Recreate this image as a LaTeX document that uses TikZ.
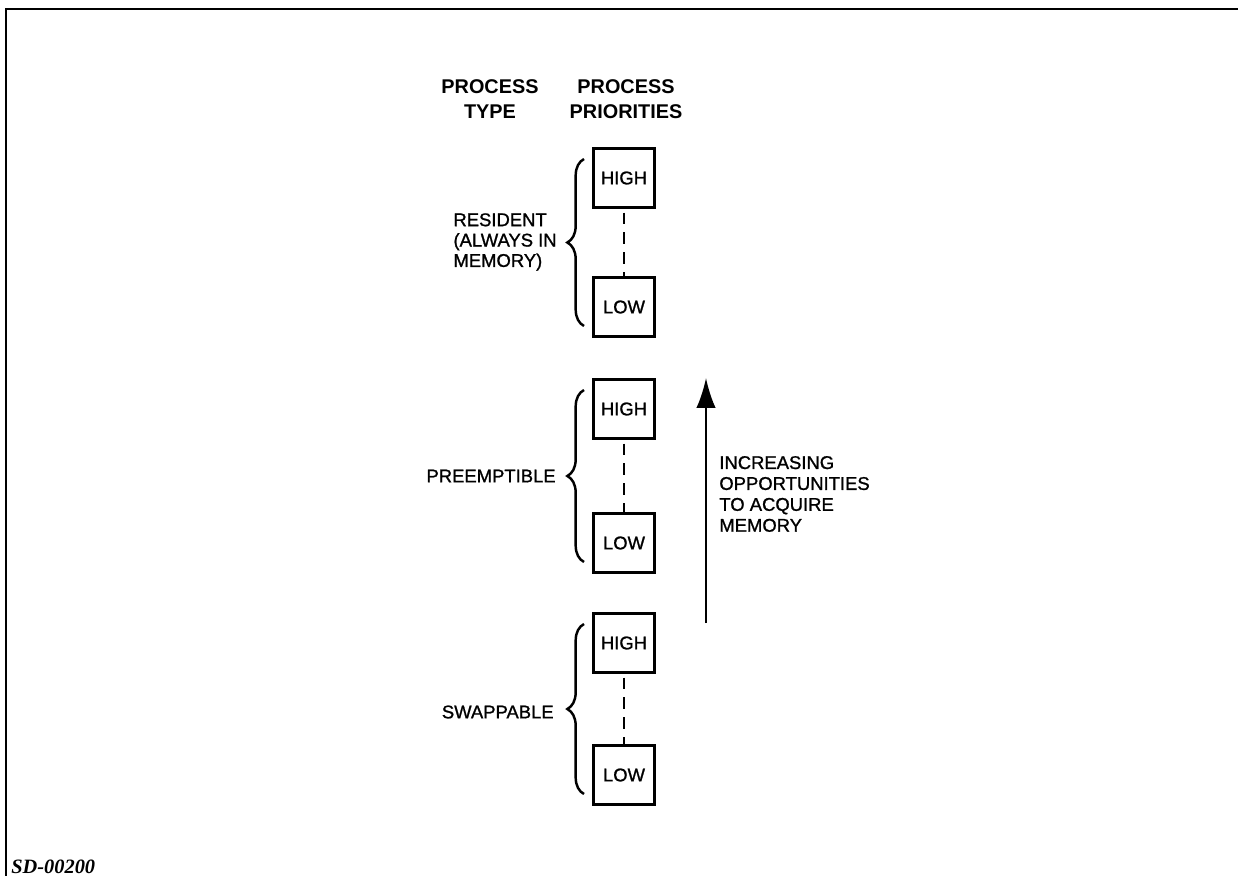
\documentclass[tikz,border=0pt]{standalone}
\usepackage{fontspec}
\setmainfont{Liberation Sans}
\newfontfamily\labelfont{Liberation Sans}[FakeBold=1.1]
\newfontfamily\figidfont{Liberation Serif}
\usetikzlibrary{arrows.meta,calc,decorations.pathreplacing}

\begin{document}
\begin{tikzpicture}[x=0.02cm, y=-0.02cm,
  every node/.style={font=\labelfont\fontsize{10.5}{11.6}\selectfont, inner sep=0pt},
  head/.style={font=\fontsize{11.3}{14.2}\selectfont\bfseries, align=center},
  prio/.style={draw, line width=1.7pt, minimum width=1.22cm, minimum height=1.18cm},
  gap/.style={line width=1.2pt, dash pattern=on 6.8pt off 4.5pt, shorten <=2pt},
  grp/.style={decorate, decoration={brace, amplitude=9.5pt}, line width=1.4pt}]
  \useasboundingbox (0,0) rectangle (1238,876);
  % frame
  \draw[line width=1.2pt] (6,876) -- (6,9) -- (1238,9);
  % column headings
  \node[head] (typehd) at (490,99) {PROCESS\\TYPE};
  \node[head] (priohd) at (626,99) {PROCESS\\PRIORITIES};
  % priority boxes, one pair per process type
  \node[prio] (hi1) at (624,178) {HIGH};
  \node[prio] (lo1) at (624,307) {LOW};
  \node[prio] (hi2) at (624,409) {HIGH};
  \node[prio] (lo2) at (624,543) {LOW};
  \node[prio] (hi3) at (624,643) {HIGH};
  \node[prio] (lo3) at (624,775) {LOW};
  \foreach \i in {1,2,3}
    \draw[gap] (hi\i) -- (lo\i);
  % braces and type names
  \foreach \i in {1,2,3}
    \draw[grp] ($(lo\i.south west)+(-8,-12)$) -- ($(hi\i.north west)+(-8,12)$);
  \node[anchor=east, align=left] (restype) at (557,242) {RESIDENT\\(ALWAYS IN\\MEMORY)};
  \node[anchor=east] (premtype) at (556,476) {PREEMPTIBLE};
  \node[anchor=east] (swaptype) at (554,712) {SWAPPABLE};
  % memory arrow
  \coordinate (arrlow) at (706,623);
  \coordinate (arrhigh) at (706,378);
  \draw[line width=1.2pt, -{Latex[length=17pt,width=11pt]}] (arrlow) -- (arrhigh);
  \node[anchor=west, align=left, font=\labelfont\fontsize{10.5}{11.9}\selectfont] (memtext) at (719,494)
    {INCREASING\\OPPORTUNITIES\\TO ACQUIRE\\MEMORY};
  % figure id
  \node[anchor=west, font=\figidfont\fontsize{11.6}{13}\selectfont\bfseries\itshape] (figid) at (11,867) {SD-00200};
\end{tikzpicture}
\end{document}
